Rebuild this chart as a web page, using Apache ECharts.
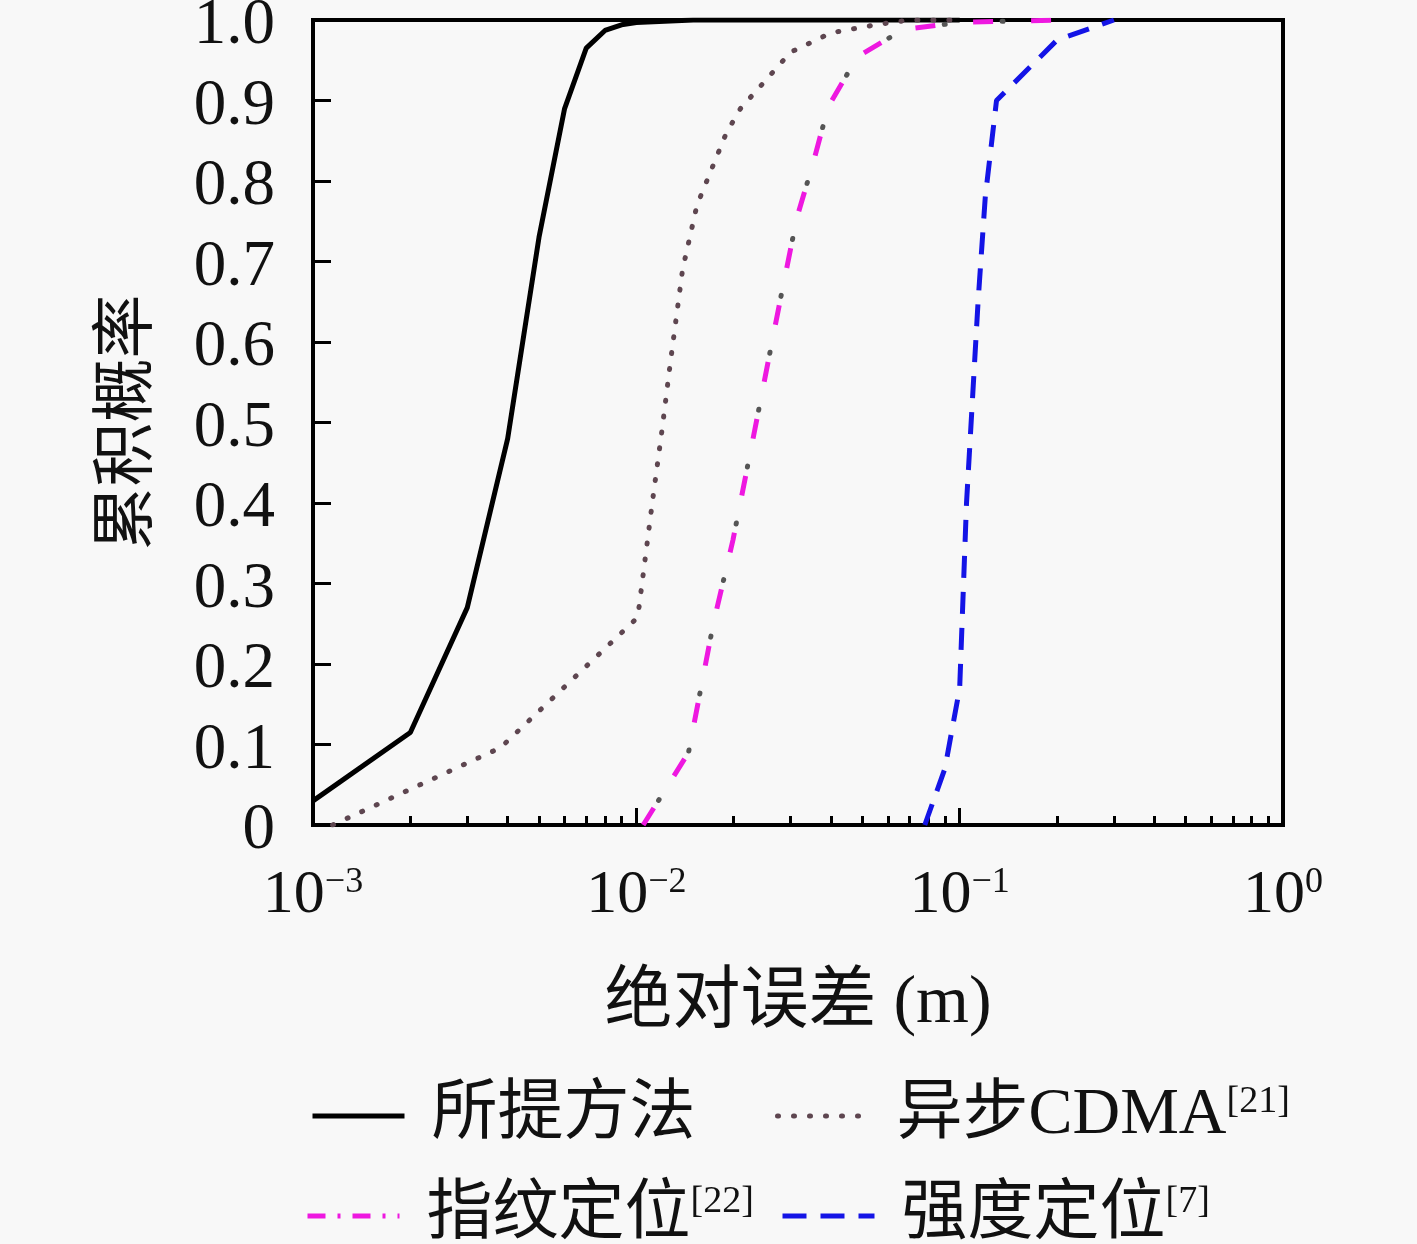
<!DOCTYPE html>
<html>
<head>
<meta charset="utf-8">
<script src="https://cdn.jsdelivr.net/npm/echarts@6/dist/echarts.min.js"></script>
<style>
  html, body { margin: 0; padding: 0; background: #f8f8f8; }
  #chart { width: 1417px; height: 1244px; }
</style>
</head>
<body>
<div id="chart"></div>
<script>
// 读图得到的数据 (x: 绝对误差 m, y: 累积概率)
var xProposed = [0.001, 0.002, 0.003, 0.004, 0.005, 0.006, 0.007, 0.008, 0.009, 0.01, 0.015, 0.1];
var yProposed = [0.03, 0.115, 0.27, 0.48, 0.73, 0.89, 0.965, 0.987, 0.994, 0.997, 1.0, 1.0];

var xCdma = [0.00115, 0.0038, 0.0101, 0.0112, 0.012, 0.0127, 0.0139, 0.0154, 0.0171, 0.019, 0.021, 0.03, 0.04, 0.055, 0.07, 0.1];
var yCdma = [0, 0.096, 0.258, 0.40, 0.49, 0.57, 0.69, 0.77, 0.815, 0.86, 0.89, 0.96, 0.984, 0.994, 1.0, 1.0];

var xFinger = [0.0105, 0.0145, 0.0173, 0.0199, 0.0233, 0.0278, 0.0314, 0.0352, 0.0392, 0.0482, 0.0668, 0.1, 0.2];
var yFinger = [0, 0.09, 0.25, 0.354, 0.493, 0.65, 0.755, 0.822, 0.892, 0.954, 0.988, 0.997, 1.0];

var xRss = [0.078, 0.09, 0.1, 0.105, 0.114, 0.12, 0.13, 0.2, 0.3];
var yRss = [0, 0.07, 0.17, 0.40, 0.65, 0.78, 0.9, 0.975, 1.0];

var names = ['所提方法', '异步CDMA[21]', '指纹定位[22]', '强度定位[7]'];
var xMinorTicks = [];
[0.001, 0.01, 0.1].forEach(function (d) {
  for (var k = 2; k <= 9; k++) xMinorTicks.push(+(d * k).toPrecision(3));
});

function zip(xs, ys) {
  return xs.map(function (x, i) { return [x, ys[i]]; });
}

var serif = '"Liberation Serif", "Noto Sans CJK SC", serif';
var chart = echarts.init(document.getElementById('chart'));

var tickRich = {
  t: { fontFamily: serif, fontSize: 62, lineHeight: 62, color: '#111', verticalAlign: 'bottom' },
  s: { fontFamily: serif, fontSize: 36, lineHeight: 36, color: '#111', verticalAlign: 'top' }
};
var legendRich = {
  t: { fontFamily: serif, fontSize: 66, lineHeight: 66, color: '#111', verticalAlign: 'bottom' },
  s: { fontFamily: serif, fontSize: 38, lineHeight: 38, color: '#111', verticalAlign: 'top' }
};

function legendFormatter(name) {
  var m = name.match(/^(.*?)(\[\d+\])$/);
  if (m) return '{t|' + m[1] + '}{s|' + m[2] + '}';
  return '{t|' + name + '}';
}

function oneLegend(name, left, top, lineType) {
  var ls = { width: 5 };
  if (lineType) ls.type = lineType;
  return {
    data: [name],
    left: left,
    top: top,
    itemWidth: 92,
    itemHeight: 20,
    selectedMode: false,
    formatter: legendFormatter,
    itemStyle: { opacity: 0 },
    lineStyle: ls,
    textStyle: { padding: [0, 0, 0, 22], rich: legendRich }
  };
}

var option = {
  backgroundColor: '#f8f8f8',
  animation: false,
  grid: {
    left: 313, right: 134, top: 20, bottom: 419,
    outerBoundsMode: 'none',
    show: true, borderColor: '#000', borderWidth: 4, backgroundColor: 'transparent'
  },
  legend: [
    oneLegend(names[0], 305, 1078),
    oneLegend(names[1], 770, 1078),
    oneLegend(names[2], 300, 1178, [18, 12, 3, 12]),
    oneLegend(names[3], 775, 1178, [24, 14])
  ],
  xAxis: [
    {
      type: 'log', logBase: 10, min: 0.001, max: 1,
      name: '绝对误差 (m)', nameLocation: 'middle', nameGap: 145,
      nameTextStyle: { fontFamily: serif, fontSize: 68, color: '#111' },
      axisLine: { show: true, lineStyle: { color: '#000', width: 4 } },
      axisTick: { show: true, inside: true, length: 17, lineStyle: { color: '#000', width: 3 } },
      splitLine: { show: false },
      axisLabel: {
        margin: 40,
        formatter: function (v) {
          var e = Math.round(Math.log(v) / Math.LN10);
          return '{t|10}{s|' + (e < 0 ? '\u2212' + (-e) : e) + '}';
        },
        rich: tickRich
      }
    },
    {
      type: 'log', logBase: 10, min: 0.001, max: 1, position: 'bottom',
      axisLine: { show: false },
      axisTick: { show: true, inside: true, length: 9, customValues: xMinorTicks, lineStyle: { color: '#000', width: 3 } },
      axisLabel: { show: false },
      splitLine: { show: false }
    }
  ],
  yAxis: {
    type: 'value', min: 0, max: 1, interval: 0.1,
    name: '累积概率', nameLocation: 'middle', nameGap: 152,
    nameTextStyle: { fontFamily: serif, fontSize: 64, color: '#111' },
    axisLine: { show: true, lineStyle: { color: '#000', width: 4 } },
    axisTick: { show: true, inside: true, length: 18, lineStyle: { color: '#000', width: 3 } },
    splitLine: { show: false },
    axisLabel: {
      margin: 38,
      formatter: function (v) { return '{v|' + (v === 0 ? '0' : v.toFixed(1)) + '}'; },
      rich: {
        v: { fontFamily: serif, fontSize: 65, lineHeight: 65, color: '#111', padding: [12, 0, 0, 0] }
      }
    }
  },
  series: [
    {
      name: names[0], type: 'line', data: zip(xProposed, yProposed),
      showSymbol: false, symbol: 'none',
      lineStyle: { color: '#000', width: 5 }, itemStyle: { color: '#000' }
    },
    {
      name: names[1], type: 'line', data: zip(xCdma, yCdma),
      showSymbol: false, symbol: 'none',
      lineStyle: { color: '#5e4650', width: 5, type: [1, 15], cap: 'round' }, itemStyle: { color: '#5e4650' }
    },
    {
      name: names[2], type: 'line', data: zip(xFinger, yFinger),
      showSymbol: false, symbol: 'none',
      lineStyle: { color: '#ee18e0', width: 5, type: [20, 38] }, itemStyle: { color: '#ee18e0' }
    },
    {
      name: names[2], type: 'line', data: zip(xFinger, yFinger),
      showSymbol: false, symbol: 'none',
      lineStyle: { color: '#555', width: 5, type: [1, 57], dashOffset: -29, cap: 'round' }, itemStyle: { color: '#555' }
    },
    {
      name: names[3], type: 'line', data: zip(xRss, yRss),
      showSymbol: false, symbol: 'none',
      lineStyle: { color: '#1414e6', width: 5, type: [22, 14] }, itemStyle: { color: '#1414e6' }
    }
  ]
};

chart.setOption(option);
window.addEventListener('resize', function () { chart.resize(); });
</script>
</body>
</html>
